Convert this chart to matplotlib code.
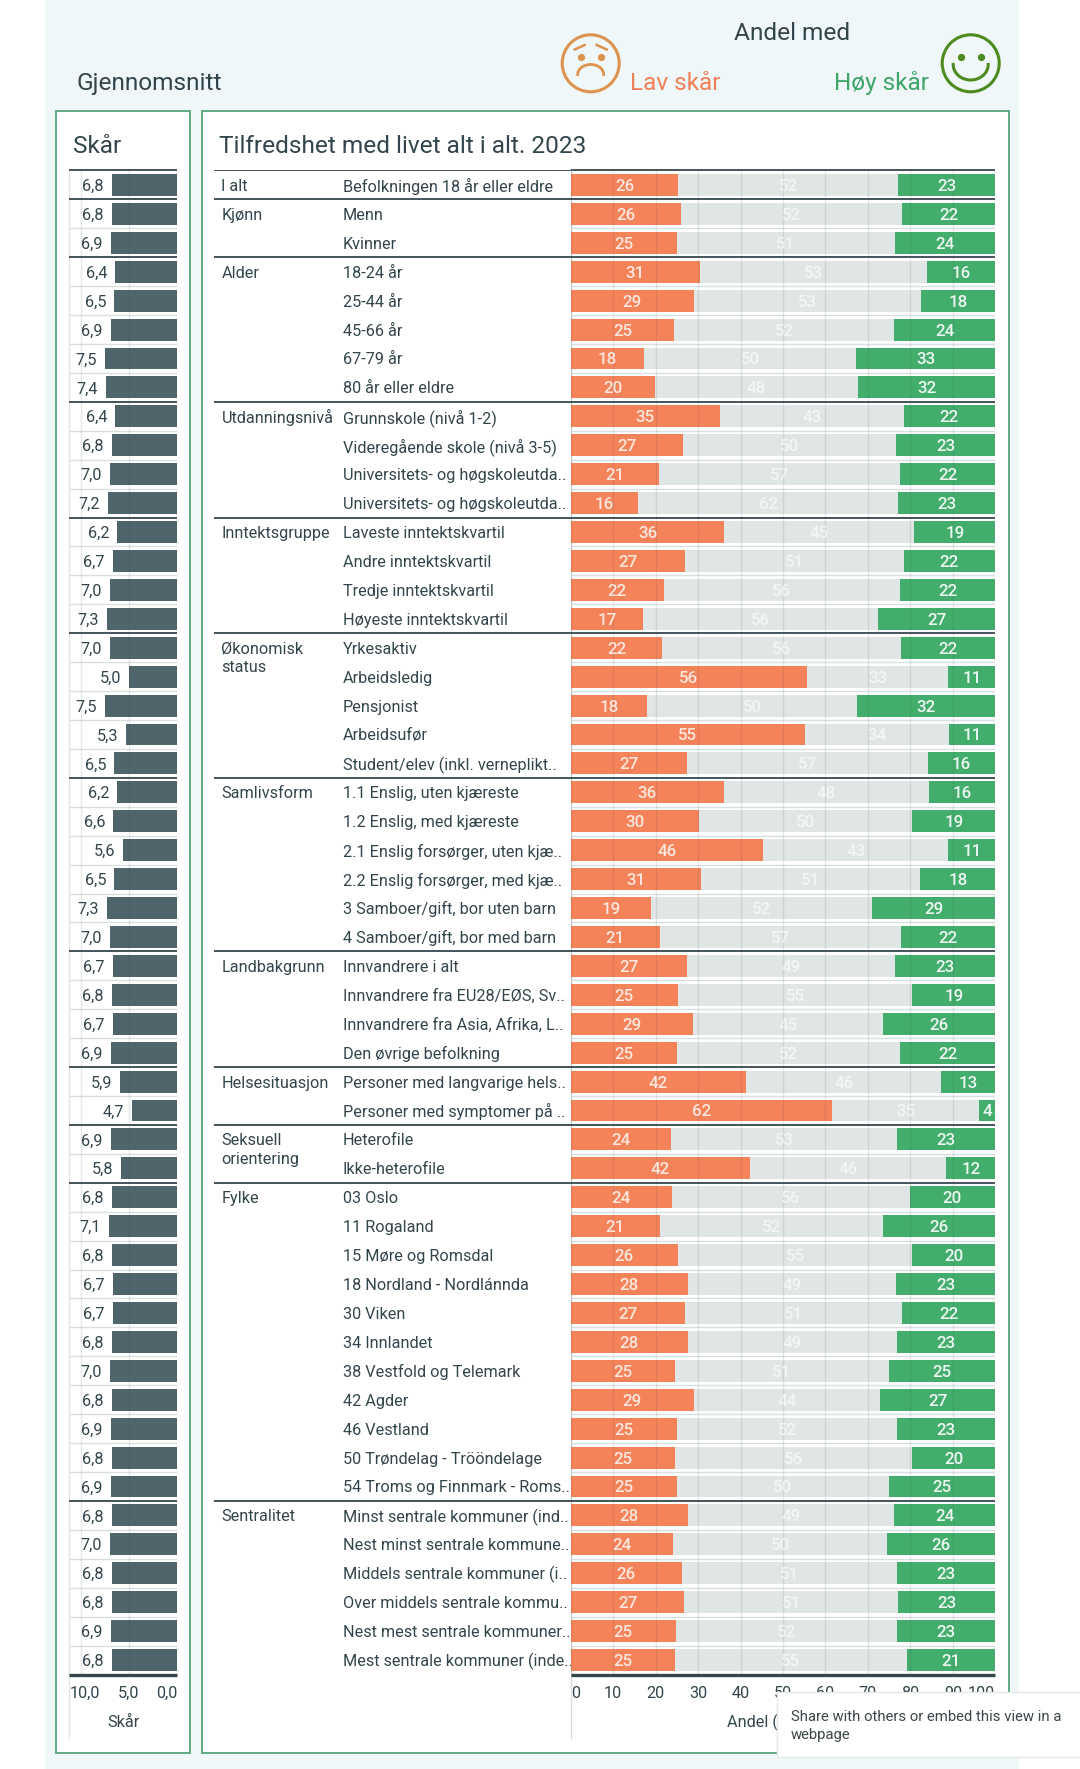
# -*- coding: utf-8 -*-
import matplotlib
matplotlib.use('Agg')
import matplotlib.pyplot as plt
import numpy as np
from matplotlib.patches import Circle, Rectangle

plt.rcParams['font.family'] = ['Roboto', 'DejaVu Sans']

W, H = 1080, 1769

groups = [
    ('I alt', 1), ('Kjønn', 2), ('Alder', 5), ('Utdanningsnivå', 4), ('Inntektsgruppe', 4),
    ('Økonomisk\nstatus', 5), ('Samlivsform', 6), ('Landbakgrunn', 4), ('Helsesituasjon', 2),
    ('Seksuell\norientering', 2), ('Fylke', 11), ('Sentralitet', 6),
]

categories = [
    'Befolkningen 18 år eller eldre',
    'Menn', 'Kvinner',
    '18-24 år', '25-44 år', '45-66 år', '67-79 år', '80 år eller eldre',
    'Grunnskole (nivå 1-2)', 'Videregående skole (nivå 3-5)',
    'Universitets- og høgskoleutda..', 'Universitets- og høgskoleutda..',
    'Laveste inntektskvartil', 'Andre inntektskvartil', 'Tredje inntektskvartil', 'Høyeste inntektskvartil',
    'Yrkesaktiv', 'Arbeidsledig', 'Pensjonist', 'Arbeidsufør', 'Student/elev (inkl. verneplikt..',
    '1.1 Enslig, uten kjæreste', '1.2 Enslig, med kjæreste', '2.1 Enslig forsørger, uten kjæ..',
    '2.2 Enslig forsørger, med kjæ..', '3 Samboer/gift, bor uten barn', '4 Samboer/gift, bor med barn',
    'Innvandrere i alt', 'Innvandrere fra EU28/EØS, Sv..', 'Innvandrere fra Asia, Afrika, L..', 'Den øvrige befolkning',
    'Personer med langvarige hels..', 'Personer med symptomer på ..',
    'Heterofile', 'Ikke-heterofile',
    '03 Oslo', '11 Rogaland', '15 Møre og Romsdal', '18 Nordland - Nordlánnda', '30 Viken', '34 Innlandet',
    '38 Vestfold og Telemark', '42 Agder', '46 Vestland', '50 Trøndelag - Trööndelage', '54 Troms og Finnmark - Roms..',
    'Minst sentrale kommuner (ind..', 'Nest minst sentrale kommune..', 'Middels sentrale kommuner (i..',
    'Over middels sentrale kommu..', 'Nest mest sentrale kommuner..', 'Mest sentrale kommuner (inde..',
]

score = [6.8, 6.8, 6.9, 6.4, 6.5, 6.9, 7.5, 7.4, 6.4, 6.8, 7.0, 7.2, 6.2, 6.7, 7.0, 7.3, 7.0, 5.0,
         7.5, 5.3, 6.5, 6.2, 6.6, 5.6, 6.5, 7.3, 7.0, 6.7, 6.8, 6.7, 6.9, 5.9, 4.7, 6.9, 5.8, 6.8,
         7.1, 6.8, 6.7, 6.7, 6.8, 7.0, 6.8, 6.9, 6.8, 6.9, 6.8, 7.0, 6.8, 6.8, 6.9, 6.8]

# bar lengths as measured, the printed labels are rounded differently
low_share = [25.35, 25.9, 25.0, 30.5, 29.1, 24.4, 17.3, 19.9, 35.1, 26.5, 20.7, 15.9, 36.2, 27.0,
             21.9, 17.0, 21.6, 55.7, 17.9, 55.1, 27.3, 36.0, 30.2, 45.4, 30.8, 19.0, 21.0, 27.3,
             25.3, 28.7, 25.0, 41.4, 61.5, 23.6, 42.2, 23.9, 21.0, 25.3, 27.6, 27.0, 27.6, 24.5,
             29.0, 25.0, 24.5, 25.0, 27.6, 24.2, 26.2, 26.8, 24.8, 24.5]
high_share = [22.8, 21.9, 23.6, 16.2, 17.6, 23.9, 32.8, 32.4, 21.6, 23.3, 22.4, 22.8, 19.1, 21.6,
              22.4, 27.6, 22.2, 11.1, 32.5, 10.8, 15.9, 15.6, 19.6, 11.1, 17.7, 29.0, 22.2, 23.6,
              19.6, 26.5, 22.4, 12.7, 3.8, 23.1, 11.5, 20.2, 26.5, 19.6, 23.3, 21.9, 23.1, 25.0,
              27.1, 23.1, 19.6, 25.0, 23.9, 25.6, 23.1, 22.8, 23.1, 20.8]

low_label = [26, 26, 25, 31, 29, 25, 18, 20, 35, 27, 21, 16, 36, 27, 22, 17, 22, 56, 18, 55, 27, 36,
             30, 46, 31, 19, 21, 27, 25, 29, 25, 42, 62, 24, 42, 24, 21, 26, 28, 27, 28, 25, 29, 25,
             25, 25, 28, 24, 26, 27, 25, 25]
mid_label = [52, 52, 51, 53, 53, 52, 50, 48, 43, 50, 57, 62, 45, 51, 56, 56, 56, 33, 50, 34, 57, 48,
             50, 43, 51, 52, 57, 49, 55, 45, 52, 46, 35, 53, 46, 56, 52, 55, 49, 51, 49, 51, 44, 52,
             56, 50, 49, 50, 51, 51, 52, 55]
high_label = [23, 22, 24, 16, 18, 24, 33, 32, 22, 23, 22, 23, 19, 22, 22, 27, 22, 11, 32, 11, 16, 16,
              19, 11, 18, 29, 22, 23, 19, 26, 22, 13, 4, 23, 12, 20, 26, 20, 23, 22, 23, 25, 27, 23,
              20, 25, 24, 26, 23, 23, 23, 21]

share_ticks = [0, 10, 20, 30, 40, 50, 60, 70, 80, 90, 100]
score_ticks = [10, 5, 0]

C_TEXT = '#33454c'
C_LOW = '#f5835a'
C_MID = '#dfe6e5'
C_HIGH = '#43ad6c'
C_SCORE = '#4f646b'
C_DARK = '#36464d'
C_SEP = '#d9dede'
C_FRAME = '#62a985'
FS = 11.7
FS_HEAD = 17.55
NUDGE = 0.05  # text sits a little below the row centre

fig = plt.figure(figsize=(W / 100, H / 100), dpi=100)


def px_axes(x0, y0, x1, y1, **kwargs):
    return fig.add_axes([x0 / W, 1 - y1 / H, (x1 - x0) / W, (y1 - y0) / H], **kwargs)


# page background, panels, headers (pixel coordinates)
page = px_axes(0, 0, W, H, zorder=0)
page.set_xlim(0, W)
page.set_ylim(H, 0)
page.axis('off')
page.add_patch(Rectangle((45, 0), 974, H, fc='#eff7f8', ec='none'))
for x0, x1 in [(55.5, 190), (201.5, 1008.5)]:
    page.add_patch(Rectangle((x0, 110.5), x1 - x0, 1642, fc='white', ec=C_FRAME, lw=1.4))
page.plot([69, 69], [171, 1738], color='#e2e5e5', lw=1)
page.plot([570.7, 570.7], [171, 1738], color='#d8dcdc', lw=1)

page.text(76.5, 83, 'Gjennomsnitt', fontsize=FS_HEAD, color=C_TEXT, va='center')
page.text(734, 33.5, 'Andel med', fontsize=FS_HEAD, color=C_TEXT, va='center')
page.text(630, 83, 'Lav skår', fontsize=FS_HEAD, color='#ef8059', va='center')
page.text(834, 83, 'Høy skår', fontsize=FS_HEAD, color='#3fa56a', va='center')
page.text(73, 146, 'Skår', fontsize=FS_HEAD, color=C_TEXT, va='center')
page.text(219, 146, 'Tilfredshet med livet alt i alt. 2023', fontsize=FS_HEAD, color=C_TEXT, va='center')
page.text(727, 1722, 'Andel (', fontsize=FS, color=C_TEXT, va='center')
page.text(85, 1693.5, '10,0', fontsize=FS, color=C_TEXT, ha='center', va='center')

# the two faces
t = np.linspace(0, np.pi, 40)
sad_c, happy_c = '#dd9350', '#4c8b1f'
page.add_patch(Circle((590.7, 63.3), 28.5, fc='none', ec=sad_c, lw=2.2))
page.plot(590.7 + 13 * np.cos(t), 74.5 - 10 * np.sin(t), color=sad_c, lw=2)
for side in (-1, 1):
    page.plot(590.7 + side * 10, 57, 'o', color=sad_c, ms=4.2)
    page.plot([590.7 + side * 6, 590.7 + side * 16], [45, 49.5], color=sad_c, lw=1.8)
page.add_patch(Circle((970.7, 63.3), 28.5, fc='none', ec=happy_c, lw=2.2))
page.plot(970.7 + 17.5 * np.cos(t), 64.5 + 15.5 * np.sin(t), color=happy_c, lw=2.2)
for side in (-1, 1):
    page.plot(970.7 + side * 10, 56.7, 'o', color=happy_c, ms=4.2)

y = np.arange(len(categories))
top, bottom = 170.5, 1674.5
boundaries = np.cumsum([n for __, n in groups])[:-1] - 0.5
inner = [v for v in y[:-1] + 0.5 if v not in boundaries]

# text columns, same rows as the bars
labels = px_axes(214, top, 570.7, bottom, zorder=1)
labels.set_xlim(214, 570.7)
labels.set_ylim(len(y) - 0.5, -0.5)
labels.axis('off')
labels.patch.set_alpha(0)
for i, name in enumerate(categories):
    labels.text(343, i + NUDGE, name, fontsize=FS, color=C_TEXT, va='center', clip_on=False)
start = 0
for name, n in groups:
    if '\n' in name:
        first, second = name.split('\n')
        labels.text(221.5, start + NUDGE, first, fontsize=FS, color=C_TEXT, va='center')
        labels.text(221.5, start + 0.65 + NUDGE, second, fontsize=FS, color=C_TEXT, va='center')
    else:
        labels.text(221.5, start + NUDGE, name, fontsize=FS, color=C_TEXT, va='center')
    start += n
labels.hlines(boundaries, 214, 570.7, color=C_DARK, lw=1.3)
labels.hlines([-0.5], 214, 570.7, color=C_DARK, lw=1.3)

# score bars
ax_score = px_axes(69, top, 177.3, bottom, zorder=2)
ax_score.patch.set_alpha(0)
ax_score.barh(y, score, height=0.76, color=C_SCORE, zorder=2)
ax_score.set_xlim(11.2, 0)
ax_score.set_ylim(len(y) - 0.5, -0.5)
for i, v in enumerate(score):
    ax_score.text(v + 0.85, i + NUDGE, f'{v:.1f}'.replace('.', ','), fontsize=FS, color=C_TEXT, ha='right', va='center')
ax_score.set_xticks(score_ticks)
ax_score.set_xticklabels(['', '5,0', '0,0'], fontsize=FS, color=C_TEXT)
ax_score.get_xticklabels()[2].set_ha('right')
ax_score.tick_params(axis='x', length=0, pad=8)
ax_score.set_yticks([])
ax_score.set_xlabel('Skår', fontsize=FS, color=C_TEXT, labelpad=10)

# stacked share bars
ax_share = px_axes(570.7, top, 995.3, bottom, zorder=2)
ax_share.patch.set_alpha(0)
low = np.array(low_share)
high = np.array(high_share)
mid = 100 - low - high
ax_share.barh(y, low, height=0.76, color=C_LOW, zorder=2)
ax_share.barh(y, mid, left=low, height=0.76, color=C_MID, zorder=2)
ax_share.barh(y, high, left=low + mid, height=0.76, color=C_HIGH, zorder=2)
ax_share.set_xlim(0, 100)
ax_share.set_ylim(len(y) - 0.5, -0.5)
for i in y:
    ax_share.text(low[i] / 2, i + NUDGE, low_label[i], fontsize=12.2, color='white', alpha=0.8,
                  fontweight='medium', ha='center', va='center', zorder=5)
    ax_share.text(low[i] + mid[i] / 2, i + NUDGE, mid_label[i], fontsize=12.2, color='white', alpha=0.65,
                  fontweight='medium', ha='center', va='center', zorder=5)
    ax_share.text(100 - high[i] / 2, i + NUDGE, high_label[i], fontsize=12.2, color='white', alpha=0.9,
                  fontweight='medium', ha='center', va='center', zorder=5)
ax_share.set_xticks(share_ticks)
ax_share.set_xticklabels(share_ticks, fontsize=FS, color=C_TEXT)
ax_share.get_xticklabels()[0].set_ha('left')
ax_share.get_xticklabels()[-1].set_ha('right')
ax_share.tick_params(axis='x', length=0, pad=8)
ax_share.set_yticks([])

for ax in (ax_score, ax_share):
    for spine in ax.spines.values():
        spine.set_visible(False)
    ax.grid(axis='x', color='#3d4c52', alpha=0.12, lw=1, zorder=3)
    ax.set_axisbelow(False)
    ax.hlines(inner, *ax.get_xlim(), color=C_SEP, lw=1, zorder=1)
    ax.hlines(boundaries, *ax.get_xlim(), color=C_DARK, lw=1.3, zorder=4)
    ax.hlines([-0.5], *ax.get_xlim(), color=C_DARK, lw=1.3, zorder=4, clip_on=False)
    ax.hlines([len(y) - 0.5], *ax.get_xlim(), color=C_DARK, lw=2.4, zorder=4, clip_on=False)

# share popup on top of the axis
popup = px_axes(0, 0, W, H, zorder=10)
popup.set_xlim(0, W)
popup.set_ylim(H, 0)
popup.axis('off')
popup.patch.set_alpha(0)
popup.add_patch(Rectangle((777, 1692), 310, 65, fc='white', ec='#e6e8e8', lw=1))
popup.text(791, 1716.5, 'Share with others or embed this view in a', fontsize=10.75, color='#3c4648', va='center')
popup.text(791, 1734.5, 'webpage', fontsize=10.75, color='#3c4648', va='center')

fig.savefig('out.png', dpi=100)
